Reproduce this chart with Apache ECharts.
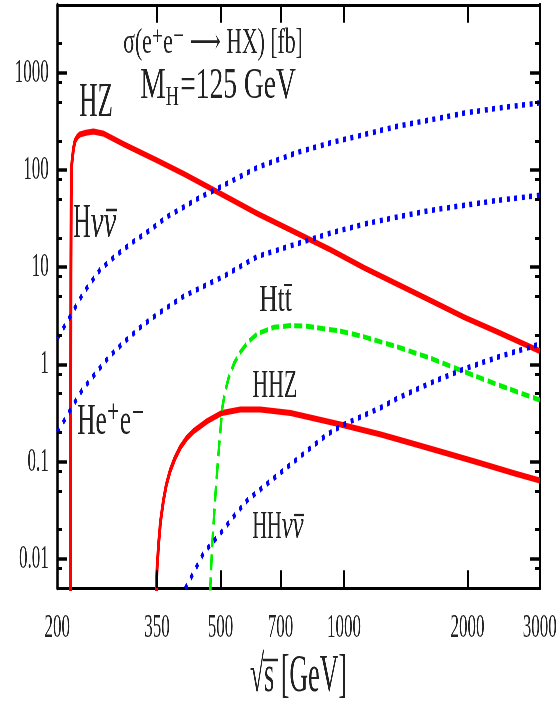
<!DOCTYPE html>
<html><head><meta charset="utf-8">
<script src="https://cdn.jsdelivr.net/npm/echarts@6/dist/echarts.min.js"></script>
<style>
html,body{margin:0;padding:0;overflow:hidden;background:#fff;width:560px;height:708px}
#wrap{width:560px;height:708px;overflow:hidden;position:relative}
#chart{width:1120px;height:708px;transform:scaleX(0.5);transform-origin:0 0;position:absolute;left:0;top:0}
</style></head><body><div id="wrap"><div id="chart"></div></div>
<script>
// ---- data (sqrt(s) in GeV, sigma in fb) ----
const xTickLabels = [200, 350, 500, 700, 1000, 2000, 3000];
const xTicks = [350, 500, 700, 1000, 2000];
const yTickLabels = [0.01, 0.1, 1, 10, 100, 1000];
const yMinorTicks = [0.008, 0.02, 0.05, 0.08, 0.2, 0.5, 0.8, 2, 5, 8, 20, 50, 80, 200, 500, 800, 2000];

const hzSqrtS = [215.3, 215.9, 216.3, 217.0, 219, 221, 224, 227, 235, 245, 260, 291, 351, 408, 471, 615, 770, 928, 1120, 1352, 1632, 1966, 2372, 3000];
const hzSigma = [0.001, 8, 52.8, 115, 165, 200, 220, 232, 242, 250, 236, 184, 125, 91, 65.6, 35.7, 22.3, 15.1, 9.84, 6.67, 4.51, 3.05, 2.15, 1.37];

const hhzSqrtS = [347.5, 348.8, 350.5, 353.4, 357, 363, 369, 377, 387, 399, 414, 430, 464, 504, 559, 625, 741, 981, 1230, 1484, 1786, 2154, 2597, 3000];
const hhzSigma = [0.002, 0.0053, 0.0085, 0.0145, 0.024, 0.040, 0.058, 0.0808, 0.108, 0.140, 0.175, 0.206, 0.261, 0.317, 0.343, 0.343, 0.317, 0.241, 0.19, 0.152, 0.121, 0.096, 0.076, 0.064];

const httSqrtS = [471, 472.4, 477, 486, 495, 505, 513, 523, 540, 559, 585, 615, 675, 741, 813, 981, 1120, 1352, 1632, 1966, 2372, 3000];
const httSigma = [0.0005, 0.00526, 0.0134, 0.046, 0.129, 0.357, 0.52, 0.72, 1.03, 1.34, 1.72, 2.07, 2.41, 2.51, 2.47, 2.2, 1.92, 1.51, 1.15, 0.841, 0.616, 0.43];

const hvvSqrtS = [200, 215.5, 231.8, 254.6, 279.7, 307, 337, 370, 407, 447, 490, 615, 770, 928, 1120, 1352, 1632, 1966, 2372, 3000];
const hvvSigma = [1.84, 3.17, 5.48, 9.48, 13.5, 18.4, 24.2, 33.0, 41.7, 52.8, 64.1, 106.5, 152, 191, 232, 283, 330, 386, 434, 492];

const heeSqrtS = [200, 215.5, 230.2, 248, 267.4, 291, 322.4, 351, 385, 408, 510, 615, 770, 928, 1120, 1352, 1632, 1966, 2372, 3000];
const heeSigma = [0.199, 0.343, 0.548, 0.81, 1.195, 1.70, 2.51, 3.30, 4.3, 5.07, 8.1, 12.9, 17.5, 22.5, 27.8, 33.0, 38.6, 43.4, 48.8, 55];

const hhvvSqrtS = [410, 430, 455, 500, 538, 581, 650, 727, 813, 910, 1000, 1230, 1352, 1632, 1966, 2372, 3000];
const hhvvSigma = [0.0049, 0.0072, 0.0115, 0.0183, 0.0271, 0.040, 0.0592, 0.0875, 0.129, 0.191, 0.241, 0.36, 0.45, 0.65, 0.90, 1.19, 1.62];

// ---- layout ----
const W = 1120, H = 708;
const GRID = {left: 114, right: 41, top: 5, bottom: 112};
const X_MIN = 200, X_MAX = 3000, Y_MIN = 0.005, Y_MAX = 5000;

const FONT = '"Liberation Serif", "DejaVu Serif", serif';
const TXT = '#222';
const pairs = (xs, ys) => xs.map((x, i) => [x, ys[i]]);
const fmt = v => String(+(+v).toPrecision(4));

const chart = echarts.init(document.getElementById('chart'), null, {renderer: 'canvas'});

function xAx(pos, labels) {
  return {
    type: 'log', logBase: 10, min: X_MIN, max: X_MAX, position: pos,
    splitLine: {show: false},
    axisLine: {show: true, lineStyle: {color: '#000', width: 3}},
    axisTick: {show: false},
    axisLabel: labels ? {show: true, customValues: xTickLabels, formatter: fmt, fontFamily: FONT, fontSize: 34, color: TXT, margin: 23} : {show: false},
    name: labels ? '\u221As [GeV]' : '',
    nameLocation: 'middle', nameGap: 63,
    nameTextStyle: {fontFamily: FONT, fontSize: 52, color: TXT}
  };
}
function yAx(pos, labels) {
  return {
    type: 'log', logBase: 10, min: Y_MIN, max: Y_MAX, position: pos,
    splitLine: {show: false},
    axisLine: {show: true, lineStyle: {color: '#000', width: 4.6}},
    axisTick: {show: false},
    axisLabel: labels ? {show: true, customValues: yTickLabels, formatter: fmt, fontFamily: FONT, fontSize: 34, color: TXT, margin: 17} : {show: false}
  };
}
function line(name, xs, ys, color, width, type) {
  return {
    name, type: 'line', data: pairs(xs, ys), xAxisIndex: 0, yAxisIndex: 0,
    showSymbol: false, symbol: 'none', smooth: false, clip: true,
    lineStyle: {color, width, type, cap: 'butt', join: 'round'}, silent: true
  };
}
function txt(text, x, y, size, sx, italic) {
  return {type: 'text', x, y, scaleX: sx, silent: true,
    style: {text, fill: TXT, font: (italic ? 'italic ' : '') + size + 'px ' + FONT,
      textAlign: 'left', textVerticalAlign: 'middle', align: 'left', verticalAlign: 'middle'}};
}
function seg(x1, y1, x2, y2, w) {
  return {type: 'line', silent: true, z: 10, shape: {x1, y1, x2, y2}, style: {stroke: TXT, lineWidth: w}};
}

// ---- inward tick marks, drawn as short segments in data space through the axes ----
const plotW = W - GRID.left - GRID.right, plotH = H - GRID.top - GRID.bottom;
const lg = Math.log10;
const xDec = lg(X_MAX) - lg(X_MIN), yDec = lg(Y_MAX) - lg(Y_MIN);
const yFac = len => Math.pow(10, len / plotH * yDec);
const xFac = len => Math.pow(10, len / plotW * xDec);
function tickSeries(coordsList, width) {
  return {
    type: 'lines', coordinateSystem: 'cartesian2d', xAxisIndex: 0, yAxisIndex: 0,
    silent: true, polyline: false, z: 6,
    lineStyle: {color: '#000', width, opacity: 1, curveness: 0, cap: 'butt'},
    data: coordsList.map(c => ({coords: c}))
  };
}
const xTickCoords = [];
xTicks.forEach(v => {
  xTickCoords.push([[v, Y_MIN], [v, Y_MIN * yFac(18)]]);
  xTickCoords.push([[v, Y_MAX], [v, Y_MAX / yFac(18)]]);
});
const yMajorCoords = [], yMinorCoords = [];
yTickLabels.forEach(v => {
  yMajorCoords.push([[X_MIN, v], [X_MIN * xFac(20), v]]);
  yMajorCoords.push([[X_MAX, v], [X_MAX / xFac(20), v]]);
});
yMinorTicks.forEach(v => {
  yMinorCoords.push([[X_MIN, v], [X_MIN * xFac(10), v]]);
  yMinorCoords.push([[X_MAX, v], [X_MAX / xFac(10), v]]);
});

const labels = [
  txt('\u03C3(e\u207Ae\u207B \u27F6 HX) [fb]', 246, 44, 35, 1.24),
  txt('M', 280, 86, 44, 1.3),
  txt('H', 331, 98, 28, 1.3),
  txt('=125 GeV', 360, 86, 44, 1.25),
  txt('HZ', 158, 103, 48, 1.05),
  txt('H', 146, 224, 48, 1.0),
  txt('\u03BD\u03BD', 181, 224, 48, 1.2, true),
  seg(212, 210, 234, 210, 2.5),
  txt('Htt\u0304', 518, 301, 38, 1.34),
  txt('He\u207Ae\u207B', 154, 422, 45, 1.12),
  txt('HHZ', 504, 386, 41, 1.07),
  txt('HH', 504, 527, 41, 1.0),
  txt('\u03BD\u03BD', 563, 527, 41, 1.2, true),
  seg(587, 515, 607, 515, 2.2),
  seg(526, 660, 556, 660, 2.5)
];

chart.setOption({
  animation: false,
  backgroundColor: '#fff',
  grid: {left: GRID.left, right: GRID.right, top: GRID.top, bottom: GRID.bottom, containLabel: false},
  xAxis: [xAx('bottom', true), xAx('top', false)],
  yAxis: [yAx('left', true), yAx('right', false)],
  series: [
    line('HZ', hzSqrtS, hzSigma, '#ff0000', 6, 'solid'),
    line('HHZ', hhzSqrtS, hhzSigma, '#ff0000', 6, 'solid'),
    line('Htt', httSqrtS, httSigma, '#00f000', 5, [16, 7]),
    line('Hvv', hvvSqrtS, hvvSigma, '#0000ff', 5.5, [6, 9]),
    line('Hee', heeSqrtS, heeSigma, '#0000ff', 5.5, [6, 9]),
    line('HHvv', hhvvSqrtS, hhvvSigma, '#0000ff', 5.5, [6, 9]),
    tickSeries(xTickCoords, 4),
    tickSeries(yMajorCoords, 3.5),
    tickSeries(yMinorCoords, 3)
  ],
  graphic: {elements: labels}
});
</script></body></html>
